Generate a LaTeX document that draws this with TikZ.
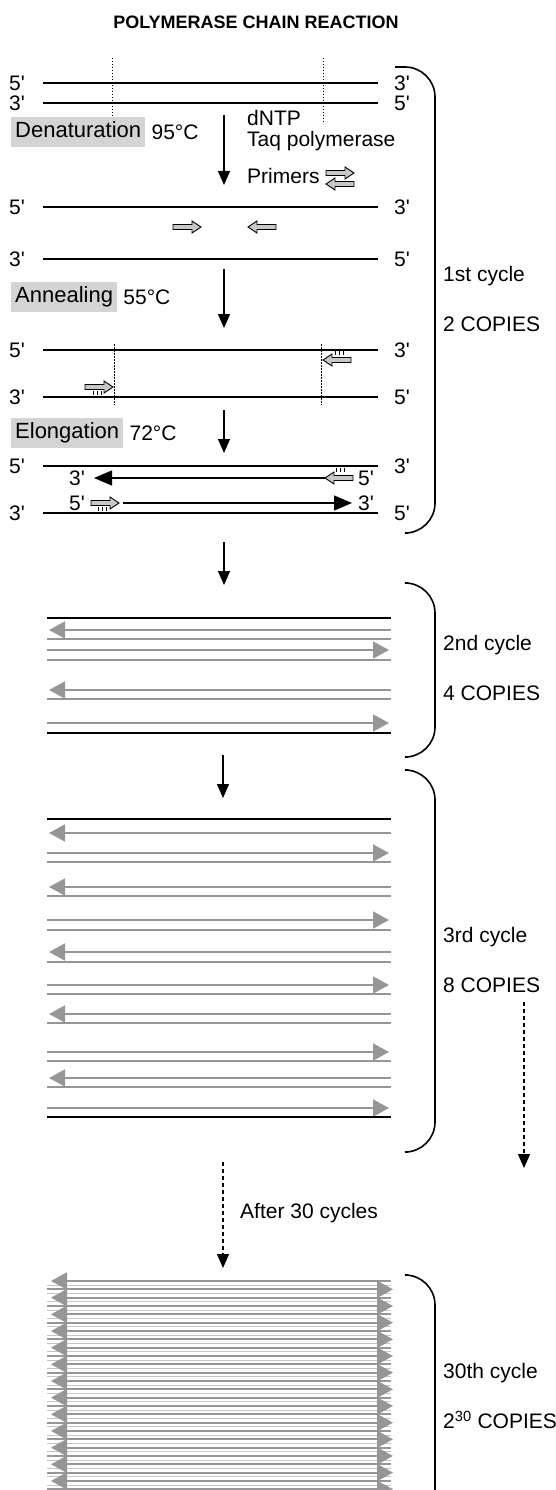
\documentclass[tikz,border=0pt]{standalone}
\usepackage{fontspec}
\setmainfont{Liberation Sans}
\usetikzlibrary{arrows.meta,positioning}

\definecolor{strandgray}{RGB}{150,150,152}
\definecolor{boxgray}{RGB}{212,212,212}
\definecolor{primergray}{RGB}{200,200,200}
\newcommand{\sq}{\textquotesingle}
\newcommand{\lbl}{\fontsize{21}{24}\selectfont}

\tikzset{
  dna/.style={line width=2pt, black},
  newdna/.style={line width=1.3pt, -{Triangle[length=18pt,width=15pt]}},
  gstrand/.style={line width=2pt, strandgray},
  garrow/.style={line width=1.6pt, strandgray, -{Triangle[length=16pt,width=17pt]}},
  steparrow/.style={line width=1.3pt, -{Triangle[length=14pt,width=12pt]}},
  dasharrow/.style={steparrow, dash pattern=on 4pt off 3pt},
  guide/.style={line width=0.8pt, dash pattern=on 1.5pt off 1.5pt},
  stepbox/.style={fill=boxgray, font=\fontsize{22}{25}\selectfont, inner xsep=4pt, minimum height=30pt, text height=15pt, text depth=4pt, anchor=west},
  endlbl/.style={font=\lbl, inner sep=0pt},
  txt/.style={font=\lbl, inner sep=0pt, anchor=west},
  bracket/.style={line width=1.6pt, rounded corners=30pt},
  hbond/.style={line width=0.8pt},
  primer/.pic={\draw[line width=0.9pt, fill=primergray] (0,-2.5) -- (19,-2.5) -- (19,-6) -- (28,0) -- (19,6) -- (19,2.5) -- (0,2.5) -- cycle;},
}

\begin{document}
\begin{tikzpicture}[x=1pt, y=-1pt]
  \useasboundingbox (0,0) rectangle (556,1490);

  \node[font=\fontsize{18}{21}\selectfont\bfseries] (title) at (256,22) {POLYMERASE CHAIN REACTION};

  % 1st cycle: template
  \node[endlbl] (a5) at (17,83) {5\sq};  \node[endlbl] (a3) at (402,83) {3\sq};
  \node[endlbl] (b3) at (17,103) {3\sq}; \node[endlbl] (b5) at (402,103) {5\sq};
  \draw[dna] (43,83) -- (378,83);
  \draw[dna] (43,103) -- (378,103);
  \draw[guide] (112,58) -- (112,122);
  \draw[guide] (323,58) -- (323,122);

  \node[stepbox] (den) at (11,132) {Denaturation};
  \node[txt, right=6pt of den] (dent) {95°C};
  \coordinate (s1) at (224,115); \coordinate (e1) at (224,185);
  \draw[steparrow] (s1) -- (e1);
  \node[txt, anchor=base west] (dntp) at (247,126) {dNTP};
  \node[txt, anchor=base west] (taq) at (247,147) {Taq polymerase};
  \node[txt, anchor=base west] (prim) at (247,184) {Primers};
  \pic at (326,173) {primer};
  \pic[xscale=-1] at (354,184) {primer};

  % denatured
  \node[endlbl] (c5) at (17,207) {5\sq};  \node[endlbl] (c3) at (402,207) {3\sq};
  \node[endlbl] (d3) at (17,259) {3\sq};  \node[endlbl] (d5) at (402,259) {5\sq};
  \draw[dna] (43,207) -- (378,207);
  \draw[dna] (43,259) -- (378,259);
  \pic at (173,227) {primer};
  \pic[xscale=-1] at (276,227) {primer};

  \node[stepbox] (ann) at (11,297) {Annealing};
  \node[txt, right=6pt of ann] (annt) {55°C};
  \coordinate (s2) at (224,269); \coordinate (e2) at (224,328);
  \draw[steparrow] (s2) -- (e2);

  % annealed
  \node[endlbl] (f5) at (17,350) {5\sq};  \node[endlbl] (f3) at (402,350) {3\sq};
  \node[endlbl] (g3) at (17,397) {3\sq};  \node[endlbl] (g5) at (402,397) {5\sq};
  \draw[dna] (43,350) -- (378,350);
  \draw[dna] (43,397) -- (378,397);
  \draw[guide] (114,344) -- (114,405);
  \draw[guide] (321,344) -- (321,405);
  \pic[xscale=-1] at (351,360) {primer};
  \pic at (85,387) {primer};
  \foreach \hx in {335,339,343} \draw[hbond] (\hx,351) -- (\hx,355);
  \foreach \hx in {93,97,101} \draw[hbond] (\hx,391) -- (\hx,395);

  \node[stepbox] (elo) at (11,433) {Elongation};
  \node[txt, right=6pt of elo] (elot) {72°C};
  \coordinate (s3) at (224,410); \coordinate (e3) at (224,453);
  \draw[steparrow] (s3) -- (e3);

  % elongated
  \node[endlbl] (h5) at (17,466) {5\sq};  \node[endlbl] (h3) at (402,466) {3\sq};
  \node[endlbl] (k3) at (17,513) {3\sq};  \node[endlbl] (k5) at (402,513) {5\sq};
  \draw[dna] (43,466) -- (378,466);
  \draw[dna] (43,513) -- (378,513);
  \node[endlbl] (n3) at (77,478) {3\sq};  \node[endlbl] (n5) at (366,478) {5\sq};
  \node[endlbl] (m5) at (77,503) {5\sq};  \node[endlbl] (m3) at (366,503) {3\sq};
  \pic[xscale=-1] at (353,478) {primer};
  \draw[newdna] (325,478) -- (94,478);
  \pic at (91,503) {primer};
  \draw[newdna] (123,503) -- (352,503);
  \foreach \hx in {336,340,344} \draw[hbond] (\hx,468) -- (\hx,472);
  \foreach \hx in {98,102,106} \draw[hbond] (\hx,507) -- (\hx,511);

  \draw[bracket] (395,67) -- (435,67) -- (435,533) -- (408,533);
  \node[txt] (cyc1) at (443,276) {1st cycle};
  \node[txt] (cop1) at (443,324) {2 COPIES};

  \coordinate (s4) at (224,542); \coordinate (e4) at (224,585);
  \draw[steparrow] (s4) -- (e4);

  % 2nd cycle
  \draw[dna] (47,618) -- (391,618);
  \foreach \yy in {630,690} \draw[garrow] (391,\yy) -- (49,\yy);
  \foreach \yy in {650,723} \draw[garrow] (47,\yy) -- (389,\yy);
  \foreach \yy in {639,660,699} \draw[gstrand] (47,\yy) -- (391,\yy);
  \draw[dna] (47,733) -- (391,733);

  \draw[bracket] (408,583) -- (435,583) -- (435,757) -- (408,757);
  \node[txt] (cyc2) at (443,645) {2nd cycle};
  \node[txt] (cop2) at (443,693) {4 COPIES};

  \coordinate (s5) at (223,755); \coordinate (e5) at (223,798);
  \draw[steparrow] (s5) -- (e5);

  % 3rd cycle
  \draw[dna] (47,819) -- (391,819);
  \foreach \yy in {833,887,952,1014,1078} \draw[garrow] (391,\yy) -- (49,\yy);
  \foreach \yy in {853,920,985,1052,1108} \draw[garrow] (47,\yy) -- (389,\yy);
  \foreach \yy in {862,896,930,962,994,1023,1061,1087} \draw[gstrand] (47,\yy) -- (391,\yy);
  \draw[dna] (47,1117) -- (391,1117);

  \draw[bracket] (408,770) -- (435,770) -- (435,1152) -- (408,1152);
  \node[txt] (cyc3) at (443,937) {3rd cycle};
  \node[txt] (cop3) at (443,985) {8 COPIES};

  % after 30 cycles
  \coordinate (s6) at (223,1162); \coordinate (e6) at (223,1268);
  \draw[dasharrow] (s6) -- (e6);
  \node[txt] (after) at (240,1213) {After 30 cycles};
  \coordinate (s7) at (524,1002); \coordinate (e7) at (524,1168);
  \draw[dasharrow] (s7) -- (e7);

  % 30th cycle
  \foreach \i in {0,...,25} {
    \pgfmathsetmacro{\yy}{1281+8.33*\i}
    \pgfmathsetmacro{\ym}{\yy+4.17}
    \draw[line width=1pt, strandgray!55] (47,\ym) -- (391,\ym);
    \ifodd\i
      \draw[garrow, line width=2pt] (47,\yy) -- (393,\yy);
    \else
      \draw[garrow, line width=2pt] (391,\yy) -- (51,\yy);
    \fi
  }
  \draw[bracket] (408,1275) -- (435,1275) -- (435,1520);
  \node[txt] (cyc30) at (443,1373) {30th cycle};
  \node[txt] (cop30) at (443,1420) {2\textsuperscript{30} COPIES};
\end{tikzpicture}
\end{document}
